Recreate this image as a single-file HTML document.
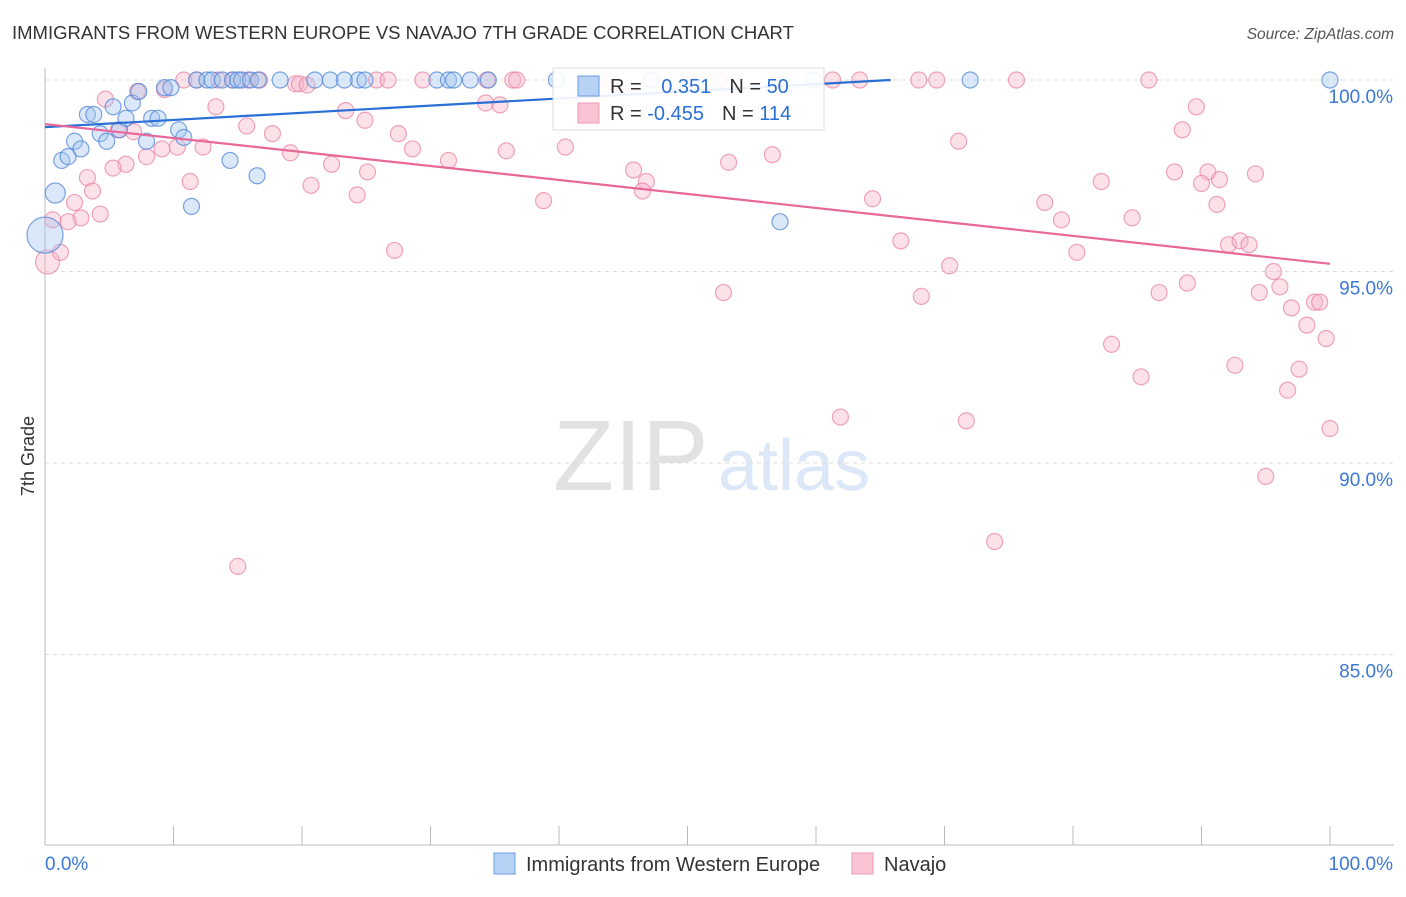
<!DOCTYPE html>
<html><head><meta charset="utf-8"><style>
body{margin:0;background:#fff;font-family:"Liberation Sans",sans-serif;}
svg text{font-family:"Liberation Sans",sans-serif;}
</style></head><body>
<svg id="chart" width="1406" height="892">
<text x="12" y="39" font-size="18.5" fill="#333">IMMIGRANTS FROM WESTERN EUROPE VS NAVAJO 7TH GRADE CORRELATION CHART</text>
<text x="1394" y="39" font-size="15.5" fill="#555" text-anchor="end" font-style="italic">Source: ZipAtlas.com</text>
<text x="34" y="456" font-size="18" fill="#333" text-anchor="middle" transform="rotate(-90 34 456)">7th Grade</text>
<g>
<text x="553" y="490" font-size="100" fill="#e2e2e2" font-family="Liberation Serif,serif">ZIP</text>
<text x="718" y="490" font-size="72" fill="#dce8f7">atlas</text>
</g>
<g id="grid"></g><g id="axes"></g><g id="pts"></g><g id="trend"></g>
<g>
<rect x="553" y="68" width="271" height="62" fill="#fff" fill-opacity="0.9" stroke="#ddd"/>
<rect x="578" y="76" width="21" height="20" fill="#b7d2f4" stroke="#6a9be0"/>
<text x="610" y="93" font-size="20" fill="#333">R = <tspan fill="#2a6fd6" dx="14">0.351</tspan><tspan dx="18" fill="#333">N = </tspan><tspan fill="#2a6fd6">50</tspan></text>
<rect x="578" y="103" width="21" height="20" fill="#f9c4d4" stroke="#ee9ab4"/>
<text x="610" y="120" font-size="20" fill="#333">R = <tspan fill="#2a6fd6">-0.455</tspan><tspan dx="18" fill="#333">N = </tspan><tspan fill="#2a6fd6">114</tspan></text>
</g>
<g>
<rect x="494" y="853" width="21" height="21" fill="#b7d2f4" stroke="#6a9be0"/>
<text x="526" y="871" font-size="20" fill="#333">Immigrants from Western Europe</text>
<rect x="852" y="853" width="21" height="21" fill="#f9c4d4" stroke="#ee9ab4"/>
<text x="884" y="871" font-size="20" fill="#333">Navajo</text>
</g>
</svg>
<script>
const yTicks=[100,95,90,85];
const xTickLabels=["0.0%","100.0%"];
const blueX=[0.8,0,1.3,1.8,2.3,2.8,3.3,3.8,4.3,4.8,5.3,5.8,6.3,6.8,7.3,7.9,8.3,8.8,9.3,9.8,10.4,10.8,11.4,14.4,16.5,57.2,11.8,12.6,13.0,13.8,14.6,15.0,15.3,16.0,16.6,18.3,21.0,22.2,23.3,24.4,24.9,30.5,31.4,31.8,33.1,34.5,39.8,47.2,59.8,72.0,100];
const blueY=[97.05,95.95,97.9,98.0,98.4,98.2,99.1,99.1,98.6,98.4,99.3,98.7,99.0,99.4,99.7,98.4,99.0,99.0,99.8,99.8,98.7,98.5,96.7,97.9,97.5,96.3,100,100,100,100,100,100,100,100,100,100,100,100,100,100,100,100,100,100,100,100,100,100,100,100,100];
const blueBig=[10,18];
const pinkX=[0.2,10.8,13.5,14.6,15.8,16.7,25.8,26.7,29.4,34.4,36.4,36.7,43.7,50.0,52.5,61.3,63.4,68.0,69.4,75.6,85.9,19.5,19.8,20.4,11.8,7.2,9.3,4.7,13.3,23.4,34.3,35.4,15.7,17.7,24.9,27.5,6.9,5.7,10.3,9.1,7.9,6.3,5.3,12.3,19.1,22.3,25.1,28.6,31.4,35.9,3.3,3.7,2.3,4.3,2.8,1.8,0.6,11.3,20.7,24.3,27.2,1.2,15.0,40.5,45.8,46.8,46.5,38.8,53.2,56.6,71.1,89.6,88.5,64.4,66.6,70.4,52.8,68.2,77.8,79.1,82.2,84.6,80.3,87.9,90.5,90.0,91.4,94.2,91.2,92.1,93.0,93.7,95.6,88.9,86.7,94.5,96.1,97.0,98.8,99.2,98.2,99.7,83.0,92.6,97.6,85.3,96.7,61.9,71.7,100,95.0,73.9];
const pinkY=[95.25,100,100,100,100,100,100,100,100,100,100,100,100,100,100,100,100,100,100,100,100,99.9,99.9,99.87,100,99.7,99.75,99.5,99.3,99.2,99.4,99.35,98.8,98.6,98.95,98.6,98.65,98.7,98.25,98.2,98.0,97.8,97.7,98.25,98.1,97.8,97.6,98.2,97.9,98.15,97.45,97.1,96.8,96.5,96.4,96.3,96.35,97.35,97.25,97.0,95.55,95.5,87.3,98.25,97.65,97.35,97.1,96.85,97.85,98.05,98.4,99.3,98.7,96.9,95.8,95.15,94.45,94.35,96.8,96.35,97.35,96.4,95.5,97.6,97.6,97.3,97.4,97.55,96.75,95.7,95.8,95.7,95.0,94.7,94.45,94.45,94.6,94.05,94.2,94.2,93.6,93.25,93.1,92.55,92.45,92.25,91.9,91.2,91.1,90.9,89.65,87.95];
const pinkBig=[12];
const blueTrendX=[0,65.8], blueTrendY=[98.77,100];
const pinkTrendX=[0,100], pinkTrendY=[98.85,95.2];

const NS="http://www.w3.org/2000/svg";
const xs=v=>45+v*12.85;
const ys=v=>80+(100-v)*38.3;
function mk(tag,attrs,parent){const e=document.createElementNS(NS,tag);for(const k in attrs)e.setAttribute(k,attrs[k]);document.getElementById(parent).appendChild(e);return e;}
yTicks.forEach(t=>{
  const l=mk('line',{x1:45,x2:1394,y1:ys(t),y2:ys(t),stroke:'#ddd','stroke-dasharray':'4 4'},'grid');
  
  
  const tx=mk('text',{x:1393,y:ys(t)+23,'font-size':19,fill:'#3b78d8','text-anchor':'end'},'grid');
  tx.textContent=t.toFixed(1)+'%';
  
  
});
const ax=mk('line',{x1:45,x2:1394,y1:845,y2:845,stroke:'#bbb'},'axes');


const ay=mk('line',{x1:45,x2:45,y1:68,y2:845,stroke:'#bbb'},'axes');


for(let i=0;i<=10;i++){
  const t=mk('line',{x1:xs(i*10),x2:xs(i*10),y1:826,y2:845,stroke:'#bbb'},'axes');
  
  
}
const xl0=mk('text',{x:45,y:870,'font-size':19,fill:'#3b78d8'},'axes');xl0.textContent=xTickLabels[0];


const xl1=mk('text',{x:1393,y:870,'font-size':19,fill:'#3b78d8','text-anchor':'end'},'axes');xl1.textContent=xTickLabels[1];


function drawPts(X,Y,big,fill,stroke,name){
  X.forEach((x,i)=>{
    const r=i<big.length?big[i]:8;
    const c=mk('circle',{cx:xs(x),cy:ys(Y[i]),r:r,fill:fill,'fill-opacity':0.4,stroke:stroke,'stroke-opacity':0.75,'stroke-width':1.2},'pts');
    
    
  });
}
drawPts(pinkX,pinkY,pinkBig,'#f7b3c8','#e985a6','navajo-point');
drawPts(blueX,blueY,blueBig,'#a6c6f0','#4f86d8','western-europe-point');
const bt=mk('line',{x1:xs(blueTrendX[0]),y1:ys(blueTrendY[0]),x2:xs(blueTrendX[1]),y2:ys(blueTrendY[1]),stroke:'#2a6fd6','stroke-width':2.2},'trend');


const pt=mk('line',{x1:xs(pinkTrendX[0]),y1:ys(pinkTrendY[0]),x2:xs(pinkTrendX[1]),y2:ys(pinkTrendY[1]),stroke:'#e8689a','stroke-width':2.2},'trend');


</script>
</body></html>
